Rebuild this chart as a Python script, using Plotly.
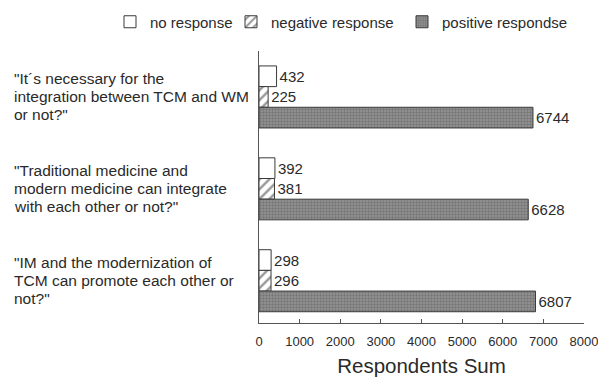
import plotly.graph_objects as go

questions = [
    "\"It´s necessary for the<br>integration between TCM and WM<br>or not?\"",
    "\"Traditional medicine and<br>modern medicine can integrate<br>with each other or not?\"",
    "\"IM and the modernization of<br>TCM can promote each other or<br>not?\"",
]
series_names = ["no response", "negative response", "positive respondse"]
no_response = [432, 392, 298]
negative_response = [225, 381, 296]
positive_response = [6744, 6628, 6807]
x_ticks = [0, 1000, 2000, 3000, 4000, 5000, 6000, 7000, 8000]

pos = list(range(len(questions)))
FONT = "Liberation Sans, Arial, sans-serif"
TXT = "#2a2a2a"
EDGE = "#3a3a3a"
LINE_SPACING = 18

fig = go.Figure()
styles = [
    dict(color="white", pattern=None),
    dict(color="white", pattern=dict(shape="/", fgcolor="#333333", bgcolor="white", size=7, solidity=0.35)),
    dict(color="#8a8a8a", pattern=dict(shape=".", fgcolor="#555555", bgcolor="#969696", size=3, solidity=0.5)),
]
legend_ids = ["legend", "legend2", "legend3"]
for name, vals, st, lg in zip(series_names, [no_response, negative_response, positive_response], styles, legend_ids):
    marker = dict(color=st["color"], line=dict(color=EDGE, width=1))
    if st["pattern"]:
        marker["pattern"] = st["pattern"]
    fig.add_trace(go.Bar(
        y=pos, x=vals, name=name, orientation="h", marker=marker, legend=lg,
        text=vals, textposition="outside", cliponaxis=False,
        textfont=dict(family=FONT, size=15, color=TXT),
    ))

for i, q in enumerate(questions):
    lines = q.split("<br>")
    n = len(lines)
    for k, ln in enumerate(lines):
        fig.add_annotation(
            x=-0.76, xref="paper", y=i, yref="y", text=ln, showarrow=False,
            xanchor="left", yanchor="middle", align="left",
            yshift=((n - 1) / 2 - k) * LINE_SPACING,
            font=dict(family=FONT, size=15.5, color=TXT),
        )

def leg(xpx):
    return dict(
        orientation="h", xref="container", yref="container",
        x=xpx / 598, y=1 - 22 / 378, xanchor="left", yanchor="middle",
        font=dict(family=FONT, size=15, color=TXT),
        itemwidth=30, bgcolor="rgba(0,0,0,0)",
    )

fig.update_layout(
    width=598, height=378,
    margin=dict(l=259, r=14, t=51, b=55, autoexpand=False),
    paper_bgcolor="white", plot_bgcolor="white",
    barmode="group", bargap=0.325, bargroupgap=0,
    showlegend=True,
    legend=leg(110), legend2=leg(231), legend3=leg(402),
    xaxis=dict(
        range=[0, 8000], tickvals=x_ticks, ticktext=[str(v) for v in x_ticks],
        ticks="inside", ticklen=4, tickcolor="#555", showline=True, linecolor="#555",
        showgrid=False, zeroline=False, automargin=False, ticklabelstandoff=6,
        ticklabeloverflow="allow",
        tickfont=dict(family=FONT, size=13, color=TXT),
        title=dict(text="Respondents Sum", font=dict(family=FONT, size=20.5, color=TXT), standoff=11),
    ),
    yaxis=dict(
        range=[2.46, -0.5], showticklabels=False, ticks="", showline=True,
        linecolor="#555", showgrid=False, zeroline=False, automargin=False,
    ),
)

fig.write_html("out.html", config={"displayModeBar": False},
               post_script="document.body.style.margin='0px';")
